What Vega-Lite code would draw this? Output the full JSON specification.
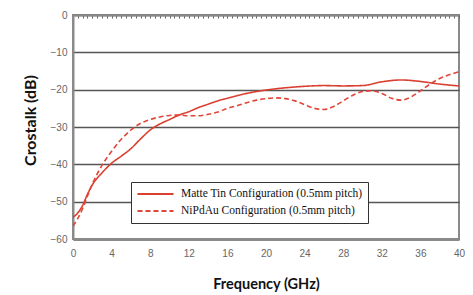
{
  "$schema": "https://vega.github.io/schema/vega-lite/v6.json",
  "width": 386,
  "height": 224,
  "autosize": "none",
  "padding": {"left": 73, "top": 15, "right": 14, "bottom": 56},
  "background": "white",
  "config": {
    "view": {"stroke": "#8a8a8a", "strokeWidth": 2},
    "axis": {
      "labelFont": "Liberation Sans",
      "labelFontSize": 10,
      "labelColor": "#666666",
      "titleFont": "Lato",
      "titleFontWeight": "bold",
      "titleFontSize": 14.5,
      "titleColor": "#111111"
    },
    "legend": {
      "title": null,
      "orient": "none",
      "legendX": 58,
      "legendY": 167,
      "fillColor": "white",
      "strokeColor": "#333333",
      "padding": 5,
      "labelFont": "Liberation Serif",
      "labelFontSize": 11.5,
      "labelColor": "#111111",
      "labelLimit": 400,
      "symbolType": "stroke",
      "symbolSize": 1300,
      "symbolStrokeWidth": 2,
      "clipHeight": 14,
      "rowPadding": 3,
      "labelOffset": 6
    }
  },
  "data": {
    "values": [
      {"f": 0, "db": -54.2, "s": "Matte Tin Configuration (0.5mm pitch)"},
      {"f": 0.5, "db": -53, "s": "Matte Tin Configuration (0.5mm pitch)"},
      {"f": 1, "db": -51, "s": "Matte Tin Configuration (0.5mm pitch)"},
      {"f": 1.5, "db": -48, "s": "Matte Tin Configuration (0.5mm pitch)"},
      {"f": 2, "db": -45.5, "s": "Matte Tin Configuration (0.5mm pitch)"},
      {"f": 3, "db": -42.3, "s": "Matte Tin Configuration (0.5mm pitch)"},
      {"f": 4, "db": -39.7, "s": "Matte Tin Configuration (0.5mm pitch)"},
      {"f": 5, "db": -37.8, "s": "Matte Tin Configuration (0.5mm pitch)"},
      {"f": 6, "db": -35.8, "s": "Matte Tin Configuration (0.5mm pitch)"},
      {"f": 7, "db": -33.2, "s": "Matte Tin Configuration (0.5mm pitch)"},
      {"f": 8, "db": -30.8, "s": "Matte Tin Configuration (0.5mm pitch)"},
      {"f": 9, "db": -29.2, "s": "Matte Tin Configuration (0.5mm pitch)"},
      {"f": 10, "db": -28, "s": "Matte Tin Configuration (0.5mm pitch)"},
      {"f": 11, "db": -26.8, "s": "Matte Tin Configuration (0.5mm pitch)"},
      {"f": 12, "db": -25.9, "s": "Matte Tin Configuration (0.5mm pitch)"},
      {"f": 13, "db": -24.8, "s": "Matte Tin Configuration (0.5mm pitch)"},
      {"f": 14, "db": -23.9, "s": "Matte Tin Configuration (0.5mm pitch)"},
      {"f": 15, "db": -23, "s": "Matte Tin Configuration (0.5mm pitch)"},
      {"f": 16, "db": -22.3, "s": "Matte Tin Configuration (0.5mm pitch)"},
      {"f": 17, "db": -21.6, "s": "Matte Tin Configuration (0.5mm pitch)"},
      {"f": 18, "db": -21, "s": "Matte Tin Configuration (0.5mm pitch)"},
      {"f": 20, "db": -20.1, "s": "Matte Tin Configuration (0.5mm pitch)"},
      {"f": 22, "db": -19.5, "s": "Matte Tin Configuration (0.5mm pitch)"},
      {"f": 24, "db": -19.1, "s": "Matte Tin Configuration (0.5mm pitch)"},
      {"f": 26, "db": -18.9, "s": "Matte Tin Configuration (0.5mm pitch)"},
      {"f": 28, "db": -19, "s": "Matte Tin Configuration (0.5mm pitch)"},
      {"f": 30, "db": -18.9, "s": "Matte Tin Configuration (0.5mm pitch)"},
      {"f": 32, "db": -17.9, "s": "Matte Tin Configuration (0.5mm pitch)"},
      {"f": 34, "db": -17.4, "s": "Matte Tin Configuration (0.5mm pitch)"},
      {"f": 36, "db": -17.8, "s": "Matte Tin Configuration (0.5mm pitch)"},
      {"f": 38, "db": -18.5, "s": "Matte Tin Configuration (0.5mm pitch)"},
      {"f": 40, "db": -19, "s": "Matte Tin Configuration (0.5mm pitch)"},
      {"f": 0, "db": -56.5, "s": "NiPdAu Configuration (0.5mm pitch)"},
      {"f": 0.5, "db": -54.5, "s": "NiPdAu Configuration (0.5mm pitch)"},
      {"f": 1, "db": -51.8, "s": "NiPdAu Configuration (0.5mm pitch)"},
      {"f": 1.5, "db": -48.5, "s": "NiPdAu Configuration (0.5mm pitch)"},
      {"f": 2, "db": -45.3, "s": "NiPdAu Configuration (0.5mm pitch)"},
      {"f": 3, "db": -40.3, "s": "NiPdAu Configuration (0.5mm pitch)"},
      {"f": 4, "db": -36.5, "s": "NiPdAu Configuration (0.5mm pitch)"},
      {"f": 5, "db": -33.3, "s": "NiPdAu Configuration (0.5mm pitch)"},
      {"f": 6, "db": -30.8, "s": "NiPdAu Configuration (0.5mm pitch)"},
      {"f": 7, "db": -29, "s": "NiPdAu Configuration (0.5mm pitch)"},
      {"f": 8, "db": -28, "s": "NiPdAu Configuration (0.5mm pitch)"},
      {"f": 9, "db": -27.3, "s": "NiPdAu Configuration (0.5mm pitch)"},
      {"f": 10, "db": -26.9, "s": "NiPdAu Configuration (0.5mm pitch)"},
      {"f": 11, "db": -26.8, "s": "NiPdAu Configuration (0.5mm pitch)"},
      {"f": 12, "db": -27, "s": "NiPdAu Configuration (0.5mm pitch)"},
      {"f": 13, "db": -27, "s": "NiPdAu Configuration (0.5mm pitch)"},
      {"f": 14, "db": -26.6, "s": "NiPdAu Configuration (0.5mm pitch)"},
      {"f": 15, "db": -26, "s": "NiPdAu Configuration (0.5mm pitch)"},
      {"f": 16, "db": -25, "s": "NiPdAu Configuration (0.5mm pitch)"},
      {"f": 17, "db": -24.3, "s": "NiPdAu Configuration (0.5mm pitch)"},
      {"f": 18, "db": -23.5, "s": "NiPdAu Configuration (0.5mm pitch)"},
      {"f": 19, "db": -22.8, "s": "NiPdAu Configuration (0.5mm pitch)"},
      {"f": 20, "db": -22.4, "s": "NiPdAu Configuration (0.5mm pitch)"},
      {"f": 21, "db": -22.2, "s": "NiPdAu Configuration (0.5mm pitch)"},
      {"f": 22, "db": -22.4, "s": "NiPdAu Configuration (0.5mm pitch)"},
      {"f": 23, "db": -23, "s": "NiPdAu Configuration (0.5mm pitch)"},
      {"f": 24, "db": -24, "s": "NiPdAu Configuration (0.5mm pitch)"},
      {"f": 25, "db": -25, "s": "NiPdAu Configuration (0.5mm pitch)"},
      {"f": 26, "db": -25.3, "s": "NiPdAu Configuration (0.5mm pitch)"},
      {"f": 27, "db": -24.5, "s": "NiPdAu Configuration (0.5mm pitch)"},
      {"f": 28, "db": -23, "s": "NiPdAu Configuration (0.5mm pitch)"},
      {"f": 29, "db": -21.5, "s": "NiPdAu Configuration (0.5mm pitch)"},
      {"f": 30, "db": -20.5, "s": "NiPdAu Configuration (0.5mm pitch)"},
      {"f": 31, "db": -20.3, "s": "NiPdAu Configuration (0.5mm pitch)"},
      {"f": 32, "db": -21, "s": "NiPdAu Configuration (0.5mm pitch)"},
      {"f": 33, "db": -22.3, "s": "NiPdAu Configuration (0.5mm pitch)"},
      {"f": 34, "db": -22.8, "s": "NiPdAu Configuration (0.5mm pitch)"},
      {"f": 35, "db": -22, "s": "NiPdAu Configuration (0.5mm pitch)"},
      {"f": 36, "db": -20.3, "s": "NiPdAu Configuration (0.5mm pitch)"},
      {"f": 37, "db": -18.5, "s": "NiPdAu Configuration (0.5mm pitch)"},
      {"f": 38, "db": -17, "s": "NiPdAu Configuration (0.5mm pitch)"},
      {"f": 39, "db": -16, "s": "NiPdAu Configuration (0.5mm pitch)"},
      {"f": 40, "db": -15.2, "s": "NiPdAu Configuration (0.5mm pitch)"}
    ]
  },
  "layer": [
    {
      "mark": {"type": "line", "interpolate": "monotone", "strokeWidth": 1.6, "clip": true},
      "encoding": {
        "x": {
          "field": "f", "type": "quantitative",
          "scale": {"domain": [0, 40], "nice": false},
          "axis": {
            "orient": "bottom",
            "values": [0, 4, 8, 12, 16, 20, 24, 28, 32, 36, 40],
            "title": "Frequency (GHz)",
            "titlePadding": 19,
            "grid": false,
            "ticks": false,
            "labelPadding": 9,
            "domainColor": "#8a8a8a",
            "domainWidth": 3,
            "labelFlush": false
          }
        },
        "y": {
          "field": "db", "type": "quantitative",
          "scale": {"domain": [-60, 0], "nice": false},
          "axis": {
            "values": [-60, -50, -40, -30, -20, -10, 0],
            "title": "Crostalk (dB)",
            "titleFontSize": 16,
            "titleX": -43,
            "titleY": 105,
            "titleAlign": "center",
            "titleBaseline": "middle",
            "titleAngle": -90,
            "grid": true,
            "gridColor": "#555555",
            "gridWidth": 1.5,
            "gridOpacity": 1,
            "ticks": false,
            "labelPadding": 6,
            "labelOverlap": false,
            "domainColor": "#8a8a8a",
            "domainWidth": 2,
            "labelFlush": false
          }
        },
        "color": {
          "field": "s", "type": "nominal",
          "scale": {"domain": ["Matte Tin Configuration (0.5mm pitch)", "NiPdAu Configuration (0.5mm pitch)"], "range": ["#d9402f", "#e0463a"]},
          "legend": {"title": null}
        },
        "strokeDash": {
          "field": "s", "type": "nominal",
          "scale": {"domain": ["Matte Tin Configuration (0.5mm pitch)", "NiPdAu Configuration (0.5mm pitch)"], "range": [[1, 0], [5, 3]]},
          "legend": {"title": null}
        }
      }
    },
    {
      "mark": {"type": "line", "opacity": 0},
      "encoding": {
        "x": {
          "field": "f", "type": "quantitative",
          "scale": {"domain": [0, 40], "nice": false},
          "axis": {
            "orient": "top",
            "values": [0,0.5,1,1.5,2,2.5,3,3.5,4,4.5,5,5.5,6,6.5,7,7.5,8,8.5,9,9.5,10,10.5,11,11.5,12,12.5,13,13.5,14,14.5,15,15.5,16,16.5,17,17.5,18,18.5,19,19.5,20,20.5,21,21.5,22,22.5,23,23.5,24,24.5,25,25.5,26,26.5,27,27.5,28,28.5,29,29.5,30,30.5,31,31.5,32,32.5,33,33.5,34,34.5,35,35.5,36,36.5,37,37.5,38,38.5,39,39.5,40],
            "labels": false,
            "title": null,
            "grid": false,
            "ticks": true,
            "tickSize": -3,
            "tickColor": "#666666",
            "tickWidth": 1,
            "domainColor": "#8a8a8a",
            "domainWidth": 2
          }
        },
        "y": {
          "field": "db", "type": "quantitative",
          "scale": {"domain": [-60, 0], "nice": false},
          "axis": {
            "values": [-60, -50, -40, -30, -20, -10, 0],
            "title": "Crostalk (dB)",
            "titleFontSize": 16,
            "titleX": -43,
            "titleY": 105,
            "titleAlign": "center",
            "titleBaseline": "middle",
            "titleAngle": -90,
            "grid": true,
            "gridColor": "#555555",
            "gridWidth": 1.5,
            "gridOpacity": 1,
            "ticks": false,
            "labelPadding": 6,
            "labelOverlap": false,
            "domainColor": "#8a8a8a",
            "domainWidth": 2,
            "labelFlush": false
          }
        },
        "detail": {"field": "s"}
      }
    }
  ],
  "resolve": {"axis": {"x": "independent"}}
}
